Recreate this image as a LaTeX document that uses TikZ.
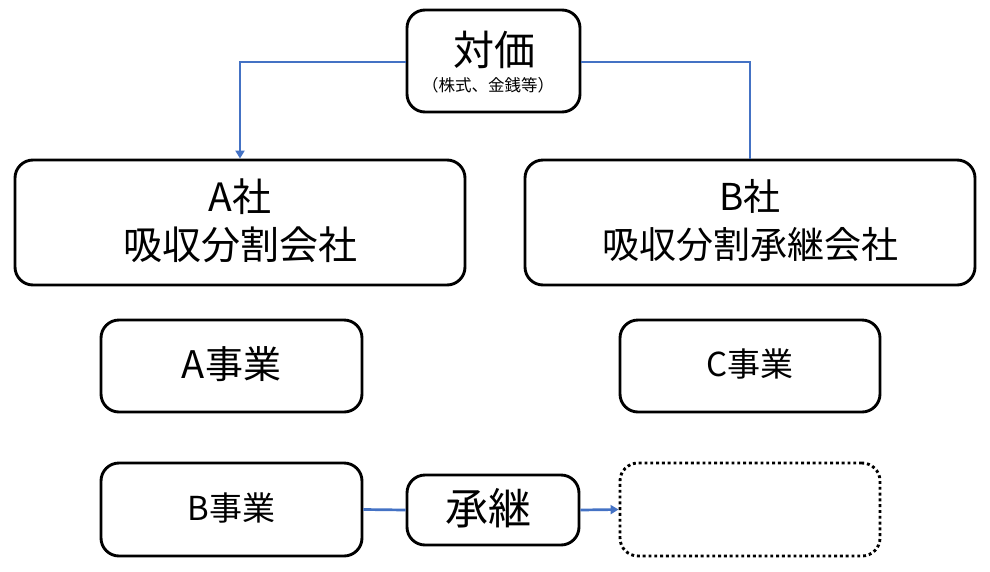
\documentclass[tikz,border=0pt]{standalone}
\usepackage{fontspec}
\setmainfont{Noto Sans CJK JP}
\usetikzlibrary{arrows.meta}
\definecolor{conblue}{HTML}{4472C4}
\tikzset{
  box/.style={draw=black, line width=2.9pt, rounded corners=18pt, inner sep=0pt, fill=white},
  dotbox/.style={draw=black, line width=2.9pt, rounded corners=18pt, inner sep=0pt, dash pattern=on 2.9pt off 2.9pt},
  conn/.style={draw=conblue, line width=2.7pt},
  arr/.style={conn, -{Triangle[length=8pt,width=9pt]}},
  txt/.style={inner sep=0pt, align=center},
}
\begin{document}
\begin{tikzpicture}[x=1pt,y=-1pt]
\useasboundingbox (0,0) rectangle (990,571);
% boxes
\node[box, minimum width=173pt, minimum height=102pt] (price) at (493.5,61) {};
\node[box, minimum width=450pt, minimum height=125pt] (acomp) at (240,222.5) {};
\node[box, minimum width=450pt, minimum height=125pt] (bcomp) at (750,222.5) {};
\node[box, minimum width=261pt, minimum height=92pt] (abiz) at (231.5,366) {};
\node[box, minimum width=260pt, minimum height=92pt] (cbiz) at (750,366) {};
\node[box, minimum width=261pt, minimum height=93pt] (bbiz) at (231.5,509.5) {};
\node[box, minimum width=172pt, minimum height=70pt] (succ) at (493,510) {};
\node[dotbox, minimum width=260pt, minimum height=93pt] (empty) at (750,509.5) {};
% texts
\node[txt, font=\fontsize{41pt}{44pt}\selectfont] (pricet) at (494,50) {対価};
\node[txt, font=\fontsize{16.5pt}{18pt}\selectfont] (prices) at (488,85) {（株式、金銭等）};
\node[txt, font=\fontsize{39pt}{48pt}\selectfont] (acompt1) at (240,197) {A社};
\node[txt, font=\fontsize{39pt}{48pt}\selectfont] (acompt2) at (240,245) {吸収分割会社};
\node[txt, font=\fontsize{37pt}{48pt}\selectfont] (bcompt) at (750,221) {B社\\吸収分割承継会社};
\node[txt, font=\fontsize{38pt}{40pt}\selectfont] (abizt) at (231.5,364) {A事業};
\node[txt, font=\fontsize{33pt}{36pt}\selectfont] (cbizt) at (750,364) {C事業};
\node[txt, font=\fontsize{33pt}{36pt}\selectfont] (bbizt) at (231.5,508) {B事業};
\node[txt, font=\fontsize{43pt}{45pt}\selectfont] (succt) at (488,508) {承継};
% connectors
\draw[arr] (price.west |- 0,62) -| (acomp.north);
\draw[conn] (price.east |- 0,62) -| (bcomp.north);
\draw[conn] (bbiz.east) -- (succ.west);
\draw[arr] (succ.east) -- (empty.west);
\end{tikzpicture}
\end{document}
